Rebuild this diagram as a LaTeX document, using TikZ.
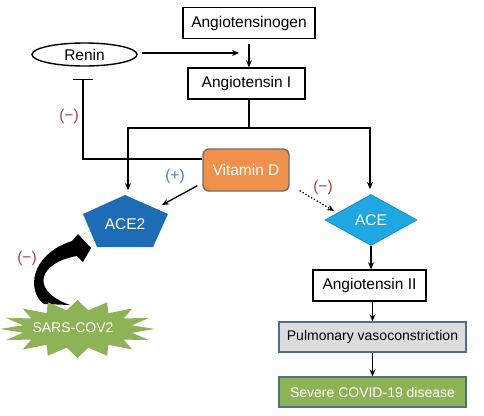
\documentclass[tikz,border=0pt]{standalone}
\usepackage{fontspec}
\setmainfont{Liberation Sans}
\usetikzlibrary{shapes.geometric,arrows.meta,calc}
\definecolor{vdorange}{HTML}{F0914B}
\definecolor{vdborder}{HTML}{6E6E6E}
\definecolor{acedark}{HTML}{1D6CB6}
\definecolor{acelight}{HTML}{1FA7E1}
\definecolor{aceborder}{HTML}{1A90C6}
\definecolor{covgreen}{HTML}{8DB356}
\definecolor{boxborder}{HTML}{4E6E8E}
\definecolor{pulmgray}{HTML}{DCDCDC}
\definecolor{minusred}{HTML}{A5403F}
\definecolor{plusblue}{HTML}{4A7DC2}
\begin{document}
\begin{tikzpicture}[x=1pt,y=-1pt,
  lbl/.style={font=\fontsize{15.5}{18}\selectfont},
  smalllbl/.style={font=\fontsize{14}{16}\selectfont},
  plainbox/.style={draw=black, line width=1.4pt, inner sep=0pt, lbl, minimum height=31pt},
  wide/.style={draw=boxborder, line width=1.4pt, inner sep=0pt, smalllbl, minimum width=187pt, minimum height=30pt},
  conn/.style={line width=1.3pt, draw=black},
  arr/.style={conn, -{Stealth[length=7pt,width=6pt]}},
  sign/.style={lbl, inner sep=0pt}
]
\useasboundingbox (0,0) rectangle (484,415);

% nodes
\node[plainbox, minimum width=132pt] (agen) at (249,23) {Angiotensinogen};
\node[ellipse, draw=black, line width=1.4pt, inner sep=0pt, lbl, minimum width=105pt, minimum height=23pt] (renin) at (84.5,54.5) {Renin};
\node[plainbox, minimum width=117pt] (angi) at (246.5,83.5) {Angiotensin I};
\node[draw=vdborder, fill=vdorange, line width=1.4pt, rounded corners=6pt, inner sep=0pt, lbl, text=white, minimum width=86pt, minimum height=42pt] (vitd) at (246,170) {Vitamin D};

% ACE2 pentagon
\fill[acedark] (125,195) -- (168,214) -- (153,247) -- (97,247) -- (83,214) -- cycle;
\node[lbl, text=white, inner sep=0pt] (ace2) at (125,224) {ACE2};
\coordinate (ace2top) at (128,195);
\coordinate (ace2ne) at (162,205);

\node[diamond, draw=aceborder, fill=acelight, line width=0.8pt, inner sep=0pt, lbl, text=white, minimum width=92pt, minimum height=51pt] (ace) at (371,220) {ACE};
\node[plainbox, minimum width=113pt] (angii) at (369.5,285.5) {Angiotensin II};
\node[wide, fill=pulmgray] (pulm) at (372.5,337) {Pulmonary vasoconstriction};
\node[wide, fill=covgreen, text=white] (severe) at (372.5,392) {Severe COVID-19 disease};

% curved black arrow from SARS-COV2 to ACE2
\fill[black] (44,304) .. controls (27,292) and (29,255) .. (72,241) -- (78,234) -- (91,248) -- (83,262) -- (77,256) .. controls (40,262) and (28,290) .. (70,305) -- cycle;

% SARS-COV2 star
\fill[covgreen] plot[domain=0:31, samples=32, variable=\t]
  ({77.5 + (77.5 - 22*mod(round(\t),2))*cos(\t*11.25)}, {329 - (29 - 10*mod(round(\t),2))*sin(\t*11.25)}) -- cycle;
\node[smalllbl, text=white, inner sep=0pt] (sars) at (73,328) {SARS-COV2};

% connectors
\draw[arr, shorten <=5pt] (agen.south) -- (agen.south |- angi.north);
\coordinate (reninend) at (239,53);
\draw[arr, shorten <=4pt] (renin.east |- reninend) -- (reninend);

\coordinate (split) at (249,128);
\draw[conn] ([xshift=2.5pt]angi.south) -- (split);
\draw[arr, shorten >=5pt] (split) -| (ace2top);
\draw[arr, shorten >=5pt] (split) -| ([xshift=-1pt]ace.north);

\coordinate (bar) at (83,79);
\draw[conn, -{Bar[width=20pt]}] ([yshift=11pt]vitd.west) -| (bar);

\draw[arr] ($(vitd.south west)+(-5,-6)$) -- (ace2ne);
\coordinate (acenw) at (334,211);
\draw[conn, dotted, -{Stealth[length=7pt,width=6pt]}] ($(vitd.south east)+(10,-1)$) -- (acenw);

\draw[arr] (ace.south) -- (ace.south |- angii.north);
\draw[arr] (angii.south -| pulm.north) -- (pulm.north);
\draw[arr] (pulm.south) -- (severe.north);

% signs
\node[sign, text=minusred] (m1) at (69,116) {(−)};
\node[sign, text=plusblue] (p1) at (175,176) {(+)};
\node[sign, text=minusred] (m2) at (323,187) {(−)};
\node[sign, text=minusred] (m3) at (27,258) {(−)};
\end{tikzpicture}
\end{document}
